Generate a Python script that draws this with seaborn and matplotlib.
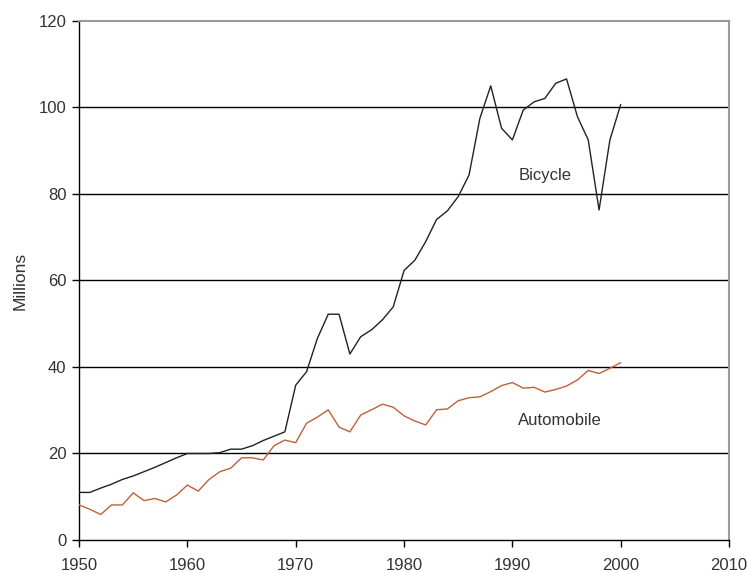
import matplotlib
matplotlib.use("Agg")
import matplotlib.pyplot as plt
import pandas as pd
import seaborn as sns

years = list(range(1950, 2001))

bicycle = [
    11.0, 11.0, 12.0, 12.9, 14.0, 14.8, 15.8, 16.8, 17.9, 19.0,
    20.0, 20.0, 20.0, 20.2, 21.0, 21.0, 21.8, 23.0, 24.0, 25.0,
    35.8, 38.9, 46.6, 52.2, 52.2, 43.0, 47.0, 48.6, 50.9, 53.9,
    62.3, 64.7, 69.0, 74.1, 76.1, 79.4, 84.4, 97.5, 105.0, 95.2,
    92.5, 99.4, 101.3, 102.1, 105.6, 106.6, 97.9, 92.5, 76.3, 92.5,
    100.7,
]

automobile = [
    8.1, 7.1, 5.9, 8.1, 8.1, 10.9, 9.1, 9.6, 8.8, 10.4,
    12.7, 11.3, 14.0, 15.8, 16.6, 19.0, 19.0, 18.5, 21.8, 23.1,
    22.5, 27.0, 28.4, 30.1, 26.1, 25.0, 28.9, 30.1, 31.4, 30.7,
    28.7, 27.5, 26.6, 30.1, 30.3, 32.2, 32.9, 33.1, 34.3, 35.7,
    36.4, 35.1, 35.3, 34.2, 34.8, 35.6, 37.0, 39.2, 38.5, 39.7,
    41.0,
]

df = pd.DataFrame({"year": years, "Bicycle": bicycle, "Automobile": automobile})

sns.set_style("white")
plt.rcParams["font.family"] = ["Liberation Sans", "DejaVu Sans"]

fig = plt.figure(figsize=(7.47, 5.73), dpi=100)
ax = fig.add_axes([0.1058, 0.0576, 0.8702, 0.9058])

# gridlines behind the series
for v in range(20, 120, 20):
    ax.axhline(v, color="black", lw=1.0, zorder=1)

sns.lineplot(data=df, x="year", y="Bicycle", ax=ax, color="#222222", lw=1.0, zorder=3)
sns.lineplot(data=df, x="year", y="Automobile", ax=ax, color="#C0603A", lw=1.0, zorder=3)

ax.set_xlim(1950, 2010)
ax.set_ylim(0, 120)
ax.set_xticks(range(1950, 2011, 10))
ax.set_yticks(range(0, 121, 20))
ax.set_xlabel("")
ax.set_ylabel("Millions", fontsize=12.5, color="#333333", labelpad=8)

ax.tick_params(axis="both", direction="out", length=5, width=1, color="black",
               labelsize=12, labelcolor="#333333")
ax.tick_params(axis="x", pad=8)
ax.tick_params(axis="y", pad=4)
ax.xaxis.set_ticks_position("bottom")
ax.yaxis.set_ticks_position("left")

for side in ["left", "bottom"]:
    ax.spines[side].set_color("black")
    ax.spines[side].set_linewidth(1.0)
for side in ["top", "right"]:
    ax.spines[side].set_color("#999999")
    ax.spines[side].set_linewidth(1.5)

ax.text(1993.0, 84.2, "Bicycle", fontsize=12, color="#333333", ha="center", va="center")
ax.text(1994.4, 27.7, "Automobile", fontsize=12, color="#333333", ha="center", va="center")

fig.savefig("out.png", dpi=100)
